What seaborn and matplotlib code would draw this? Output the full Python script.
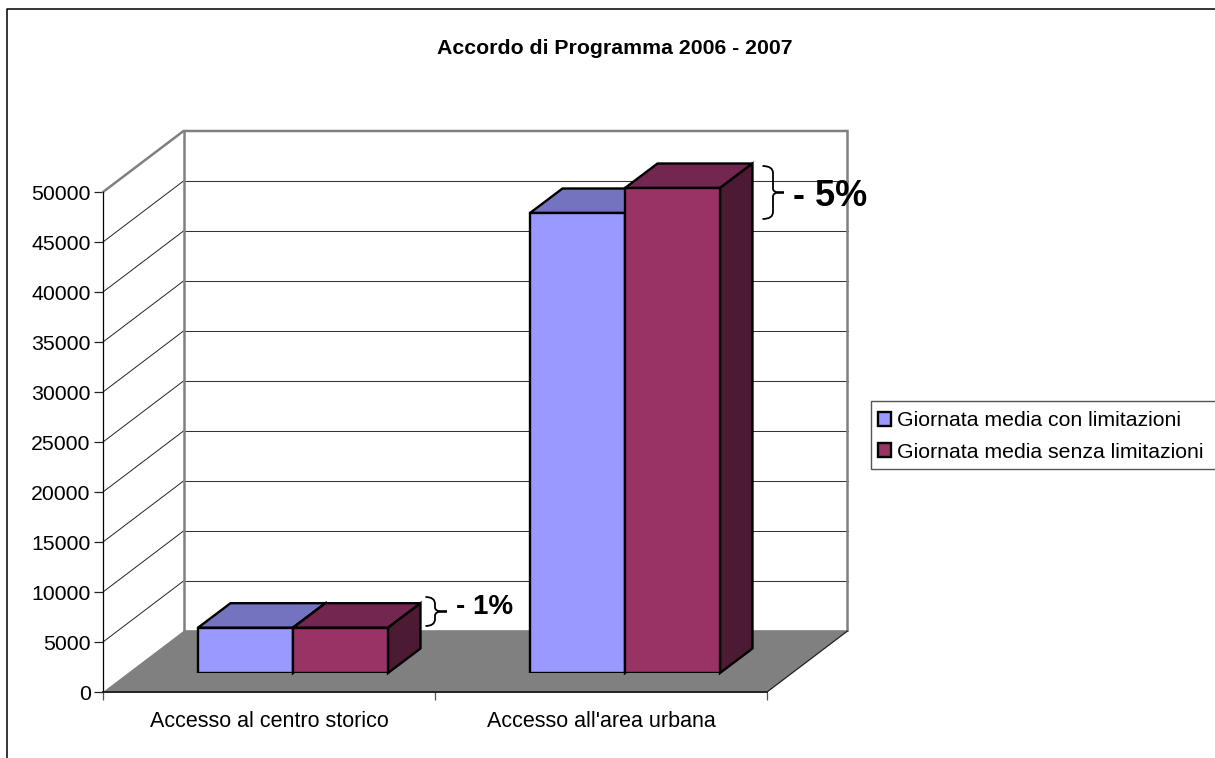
# Accordo di Programma 2006 - 2007: fake 3D bars in the old Excel style
import numpy as np
import pandas as pd
import matplotlib
matplotlib.use("Agg")
import matplotlib.pyplot as plt
import seaborn as sns
from matplotlib.lines import Line2D
from matplotlib.patches import PathPatch, Polygon, Rectangle
from matplotlib.path import Path
from matplotlib.transforms import Affine2D

# =========================
# DATA
# =========================
categories = ["Accesso al centro storico", "Accesso all'area urbana"]
series_names = ["Giornata media con limitazioni", "Giornata media senza limitazioni"]
con_limitazioni = [4530, 46000]
senza_limitazioni = [4530, 48500]
y_ticks = [0, 5000, 10000, 15000, 20000, 25000, 30000, 35000, 40000, 45000, 50000]

df = pd.DataFrame({
    "categoria": categories * 2,
    "serie": [series_names[0]] * 2 + [series_names[1]] * 2,
    "valore": con_limitazioni + senza_limitazioni,
})

# =========================
# LAYOUT (pixels)
# =========================
W, H = 1215, 758
X0, X1 = 103, 767      # front plane
Y0, Y1 = 692, 192
DEPTH_X, DEPTH_Y = 80.5, 61     # walls
BAR_DX, BAR_DY = 24, 19         # bars stand a little inside the floor
BAR_DEPTH_X, BAR_DEPTH_Y = 32.5, 24.5
PX_X = 2.0 / (X1 - X0)          # data units per pixel
PX_Y = 50000.0 / (Y0 - Y1)

GREY = "#808080"
colors = ["#9999FF", "#993366"]
top_colors = ["#7373BF", "#732650"]
side_colors = ["#4D4D80", "#4D1A33"]

sns.set_theme(style="white")
plt.rcParams["font.family"] = ["Liberation Sans", "DejaVu Sans"]
plt.rcParams["text.color"] = "black"

fig = plt.figure(figsize=(W / 100, H / 100), dpi=100, facecolor="white")
px = Affine2D().scale(1, -1).translate(0, H)  # top-left pixel coords


def axes_rect(dx=0, dy=0):
    return [(X0 + dx) / W, 1 - (Y0 - dy) / H, (X1 - X0) / W, (Y0 - Y1) / H]


ax = fig.add_axes(axes_rect())
bar_ax = fig.add_axes(axes_rect(BAR_DX, BAR_DY), zorder=3)

# =========================
# WALLS AND FLOOR
# =========================
ax.set_xlim(-0.5, 1.5)
ax.set_ylim(0, 50000)
dx = DEPTH_X * PX_X
dy = DEPTH_Y * PX_Y

ax.add_patch(Polygon([(-0.5, 0), (1.5, 0), (1.5 + dx, dy), (-0.5 + dx, dy)],
                     closed=True, facecolor=GREY, edgecolor="none", clip_on=False, zorder=1))
for v in y_ticks[1:-1]:
    ax.plot([-0.5, -0.5 + dx], [v, v + dy], color="#222222", lw=0.7, clip_on=False, zorder=1)
    ax.plot([-0.5 + dx, 1.5 + dx], [v + dy, v + dy], color="#333333", lw=0.75, clip_on=False, zorder=1)
ax.plot([-0.5, -0.5 + dx, 1.5 + dx, 1.5 + dx], [50000, 50000 + dy, 50000 + dy, dy],
        color=GREY, lw=1.8, clip_on=False, zorder=1.5, solid_joinstyle="miter")
ax.plot([-0.5 + dx, -0.5 + dx], [dy, 50000 + dy], color=GREY, lw=1.8, clip_on=False, zorder=1.5)
ax.plot([-0.5 + dx, 1.5 + dx], [dy, dy], color=GREY, lw=1.2, clip_on=False, zorder=1.5)
ax.plot([1.5, 1.5 + dx], [0, dy], color="#222222", lw=0.9, clip_on=False, zorder=1.6)

sns.despine(ax=ax, top=True, right=True)
ax.patch.set_alpha(0)
ax.spines["left"].set_color("black")
ax.spines["left"].set_linewidth(0.9)
ax.spines["bottom"].set_color("#222222")
ax.spines["bottom"].set_linewidth(1.4)
ax.set_yticks(y_ticks)
ax.set_xticks([-0.5, 0.5, 1.5])
ax.set_xticklabels([])
ax.set_xticks([0, 1], labels=categories, minor=True)
ax.tick_params(axis="y", length=6.5, width=0.9, color="#222222", labelsize=15.3, pad=2.5,
               left=True, labelcolor="black")
ax.tick_params(axis="x", which="major", length=6, width=0.9, color="#555555", bottom=True)
ax.tick_params(axis="x", which="minor", length=0, labelsize=15.5, pad=14, labelcolor="black")

# =========================
# BARS
# =========================
sns.barplot(data=df, x="categoria", y="valore", hue="serie", hue_order=series_names,
            palette=colors, order=categories, width=190 / 332, gap=0, saturation=1,
            edgecolor="black", linewidth=1.7, legend=False, ax=bar_ax, zorder=3)
bar_ax.set_xlim(-0.5, 1.5)
bar_ax.set_ylim(0, 50000)
bar_ax.axis("off")

bdx = BAR_DEPTH_X * PX_X
bdy = BAR_DEPTH_Y * PX_Y
for i, patch in enumerate(bar_ax.patches):
    s = i // 2
    x, w, h = patch.get_x(), patch.get_width(), patch.get_height()
    bar_ax.add_patch(Polygon([(x, h), (x + w, h), (x + w + bdx, h + bdy), (x + bdx, h + bdy)],
                             closed=True, facecolor=top_colors[s], edgecolor="black",
                             lw=1.7, clip_on=False, zorder=2))
    bar_ax.add_patch(Polygon([(x + w, 0), (x + w, h), (x + w + bdx, h + bdy), (x + w + bdx, bdy)],
                             closed=True, facecolor=side_colors[s], edgecolor="black",
                             lw=1.7, clip_on=False, zorder=2))

# =========================
# LEGEND
# =========================
# frame drawn apart: it runs off the right edge and the rows sit a bit off centre otherwise
fig.add_artist(Rectangle((870.5, 400.5), 360, 68, facecolor="white", edgecolor="#555555", lw=1.0,
                         transform=px, zorder=4))
handles = [bar_ax.patches[0], bar_ax.patches[2]]
leg = fig.legend(handles, series_names,
                 bbox_to_anchor=(871 / W, 1 - 468.5 / H, 360 / W, 68 / H),
                 loc="lower left", mode="expand", borderaxespad=0, fontsize=15.35, frameon=False,
                 handlelength=0.62, handleheight=0.62, handletextpad=0.3, borderpad=0.32,
                 labelspacing=0.58)
leg.set_zorder(5)


# =========================
# BRACES + PERCENT LABELS
# =========================
def brace(x0, xm, xt, y0, y1):
    ym = (y0 + y1) / 2
    verts = [(x0, y0), (xm, y0), (xm, y0 + 7), (xm, ym - 4), (xm, ym), (xt - 4, ym), (xt, ym),
             (xt - 4, ym), (xm, ym), (xm, ym + 4), (xm, y1 - 7), (xm, y1), (x0, y1)]
    codes = [Path.MOVETO, Path.CURVE3, Path.CURVE3, Path.LINETO, Path.CURVE3, Path.CURVE3, Path.LINETO,
             Path.LINETO, Path.CURVE3, Path.CURVE3, Path.LINETO, Path.CURVE3, Path.CURVE3]
    fig.add_artist(PathPatch(Path(verts, codes), facecolor="none", edgecolor="black", lw=1.3,
                             transform=px, zorder=5))


brace(425.5, 435, 447, 597, 626)
brace(762.5, 773, 784, 166, 219)
fig.text(456 / W, 1 - 607 / H, "- 1%", fontsize=20, fontweight="bold", va="center", ha="left", zorder=6)
fig.text(793 / W, 1 - 197 / H, "- 5%", fontsize=26, fontweight="bold", va="center", ha="left", zorder=6)

fig.text(615 / W, 1 - 49 / H, "Accordo di Programma 2006 - 2007", fontsize=15.3, fontweight="bold",
         ha="center", va="center")

# outer chart border, only top and left are inside the crop
fig.add_artist(Line2D([6.5, 6.5, W], [H, 8.5, 8.5], color="black", lw=1.1, transform=px))

fig.savefig("out.png", dpi=100)
